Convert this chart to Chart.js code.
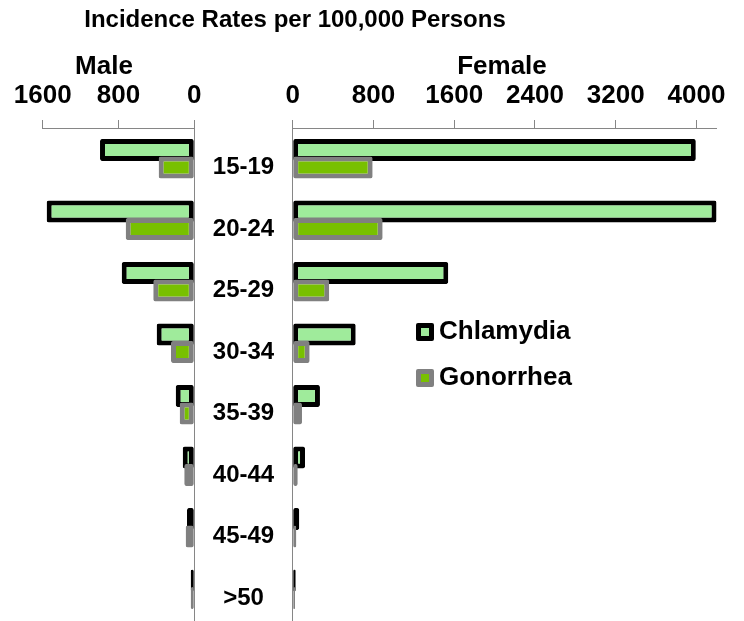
<!DOCTYPE html>
<html>
<head>
<meta charset="utf-8">
<script src="https://cdn.jsdelivr.net/npm/chart.js@4.4.1/dist/chart.umd.min.js"></script>
<style>
    html, body { margin: 0; padding: 0; background: #fff; }
    #wrap { position: relative; width: 744px; height: 621px; }
    #wrap canvas { position: absolute; left: 0; top: 0; }
</style>
</head>
<body>
<div id="wrap">
    <canvas id="maleChart" width="744" height="621"></canvas>
    <canvas id="femaleChart" width="744" height="621"></canvas>
</div>
<script>
// Datos (tasas por 100.000 personas)
const ageGroups = ['15-19', '20-24', '25-29', '30-34', '35-39', '40-44', '45-49', '>50'];
const maleChlamydia = [995, 1558, 766, 397, 196, 122, 77, 38];
const maleGonorrhea = [376, 724, 433, 246, 154, 106, 91, 38];
const femaleChlamydia = [3993, 4198, 1541, 624, 270, 122, 65, 30];
const femaleGonorrhea = [792, 891, 362, 168, 92, 50, 36, 23];
const maleTicks = [0, 800, 1600];
const femaleTicks = [0, 800, 1600, 2400, 3200, 4000];
const maleMax = 1600;
const femaleMax = 4200;

const FONT = "'Liberation Sans', Arial, sans-serif";
const axisGray = '#868686';
const chlFill = '#9feb9b';
const chlBorder = '#000000';
const gonFill = '#78c000';
const gonBorder = '#808080';

const makeDatasets = (chl, gon) => [
    {
        label: 'Chlamydia',
        data: chl,
        backgroundColor: chlFill,
        borderColor: chlBorder,
        borderWidth: 5,
        borderSkipped: false,
        borderRadius: 2,
        categoryPercentage: 0.57,
        barPercentage: 1.26,
    },
    {
        label: 'Gonorrhea',
        data: gon,
        backgroundColor: gonFill,
        borderColor: gonBorder,
        borderWidth: 5,
        borderSkipped: false,
        borderRadius: 2,
        categoryPercentage: 0.57,
        barPercentage: 1.26,
    },
];

// Chart.js pinta el dataset 0 encima; el original pinta Gonorrhea encima
const gonorrheaOnTop = {
    id: 'gonorrheaOnTop',
    beforeDatasetDraw(chart, args) {
        if (args.index === 1) {
            chart.getDatasetMeta(0).controller.draw();
        }
        if (args.index === 0) {
            return false;
        }
    },
};

const valueAxis = (ticksArr, max, reverse) => ({
    position: 'top',
    reverse: reverse,
    min: 0,
    max: max,
    afterBuildTicks: (scale) => {
        scale.ticks = ticksArr.map((v) => ({ value: v }));
    },
    afterFit: (scale) => {
        scale.height = 128;
    },
    ticks: {
        font: { family: FONT, size: 26, weight: 'bold' },
        color: '#000',
        padding: 9,
        maxRotation: 0,
        autoSkip: false,
        callback: (v) => String(v),
    },
    grid: { drawOnChartArea: false, tickLength: 8, color: axisGray },
    border: { color: axisGray },
});

// Titulos y leyenda dibujados en coordenadas de la pagina
const labelsPlugin = {
    id: 'labelsPlugin',
    afterDraw(chart) {
        const ctx = chart.ctx;
        ctx.save();
        ctx.fillStyle = '#000';
        ctx.textBaseline = 'alphabetic';
        ctx.textAlign = 'center';
        ctx.font = `bold 24px ${FONT}`;
        ctx.fillText('Incidence Rates per 100,000 Persons', 295, 27);
        ctx.font = `bold 26px ${FONT}`;
        ctx.fillText('Male', 104, 74);
        ctx.fillText('Female', 502, 74);

        // leyenda
        ctx.textAlign = 'left';
        const rows = [332, 378];
        chart.data.datasets.forEach((ds, i) => {
            const cy = rows[i];
            ctx.fillStyle = ds.borderColor;
            ctx.beginPath();
            ctx.roundRect(416, cy - 9, 18, 18, 2);
            ctx.fill();
            ctx.fillStyle = ds.backgroundColor;
            ctx.fillRect(421, cy - 4, 8, 8);
            ctx.fillStyle = '#000';
            ctx.fillText(ds.label, 439, cy + 7);
        });
        ctx.restore();
    },
};

const maleChart = new Chart(document.getElementById('maleChart'), {
    type: 'bar',
    data: { labels: ageGroups, datasets: makeDatasets(maleChlamydia, maleGonorrhea) },
    options: {
        indexAxis: 'y',
        responsive: false,
        animation: false,
        layout: { padding: { left: 42.7, right: 744 - 194.3, top: 0, bottom: 1 } },
        scales: {
            x: valueAxis(maleTicks, maleMax, true),
            y: {
                position: 'right',
                ticks: { display: false },
                grid: { display: false, drawTicks: false },
                border: { color: axisGray },
                afterFit: (scale) => {
                    scale.width = 0;
                    scale.paddingTop = 0;
                    scale.paddingBottom = 0;
                },
            },
        },
        plugins: { legend: { display: false }, tooltip: { enabled: false } },
    },
    plugins: [gonorrheaOnTop],
});

const femaleChart = new Chart(document.getElementById('femaleChart'), {
    type: 'bar',
    data: { labels: ageGroups, datasets: makeDatasets(femaleChlamydia, femaleGonorrhea) },
    options: {
        indexAxis: 'y',
        responsive: false,
        animation: false,
        layout: { padding: { left: 192.7, right: 27.3, top: 0, bottom: 1 } },
        scales: {
            x: valueAxis(femaleTicks, femaleMax, false),
            y: {
                position: 'left',
                ticks: {
                    font: { family: FONT, size: 24, weight: 'bold' },
                    color: '#000',
                    padding: 18.5,
                    crossAlign: 'center',
                    labelOffset: 9,
                },
                grid: { display: false, drawTicks: false },
                border: { color: axisGray },
                afterFit: (scale) => {
                    scale.width = 100;
                    // sin relleno extra por las etiquetas: el area llega abajo como en el original
                    scale.paddingTop = 0;
                    scale.paddingBottom = 0;
                },
            },
        },
        plugins: { legend: { display: false }, tooltip: { enabled: false } },
    },
    plugins: [gonorrheaOnTop, labelsPlugin],
});
</script>
</body>
</html>
